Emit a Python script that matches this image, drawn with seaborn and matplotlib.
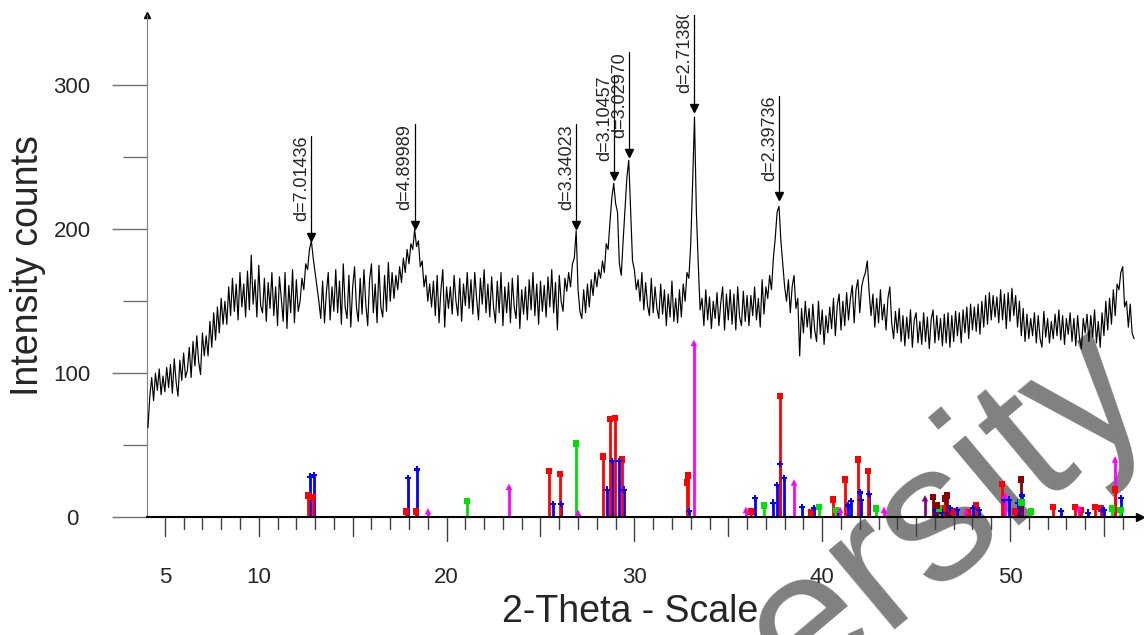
import numpy as np
import pandas as pd
import matplotlib
matplotlib.use("Agg")
import matplotlib.pyplot as plt
import matplotlib.transforms as mtrans
import seaborn as sns

start_2theta = 4.1
step_2theta = 0.1
counts = [
    62,
    84, 97, 81, 100, 88, 103, 85, 98, 87, 104,
    90, 106, 86, 110, 94, 84, 109, 95, 114, 97,
    102, 118, 97, 122, 105, 126, 108, 99, 128, 112,
    126, 112, 136, 118, 142, 123, 146, 128, 152, 134,
    150, 134, 160, 140, 166, 143, 162, 137, 170, 146,
    162, 139, 171, 144, 182, 148, 165, 139, 175, 147,
    142, 166, 136, 163, 145, 170, 140, 160, 133, 167,
    152, 136, 170, 131, 161, 142, 172, 135, 165, 143,
    150, 166, 158, 176, 172, 186, 192, 180, 170, 160,
    150, 138, 164, 135, 156, 170, 137, 160, 143, 172,
    142, 164, 134, 176, 146, 138, 168, 132, 160, 174,
    146, 136, 166, 141, 172, 148, 133, 165, 176, 142,
    162, 135, 175, 146, 139, 168, 143, 177, 150, 170,
    152, 168, 158, 174, 163, 180, 170, 186, 176, 190,
    186, 200, 188, 192, 174, 178, 160, 168, 150, 162,
    146, 164, 140, 168, 135, 158, 172, 132, 160, 145,
    160, 141, 168, 150, 140, 166, 136, 162, 147, 170,
    145, 165, 141, 170, 152, 137, 166, 148, 172, 142,
    162, 139, 167, 146, 135, 164, 142, 170, 133, 160,
    142, 163, 135, 166, 146, 138, 168, 131, 158, 141,
    160, 137, 165, 144, 170, 140, 162, 134, 164, 143,
    161, 139, 167, 146, 172, 142, 163, 130, 168, 150,
    143, 166, 157, 170, 160, 176, 180, 199, 158, 143,
    138, 158, 142, 162, 146, 165, 154, 170, 160, 172,
    166, 178, 170, 190, 186, 205, 222, 232, 218, 212,
    176, 168, 192, 214, 236, 248, 212, 178, 172, 158,
    165, 150, 170, 144, 163, 147, 140, 166, 142, 160,
    145, 138, 162, 141, 158, 133, 155, 139, 164, 136,
    152, 135, 158, 139, 162, 150, 170, 166, 190, 232,
    278, 212, 176, 144, 152, 133, 158, 137, 153, 131,
    150, 138, 156, 133, 149, 160, 130, 155, 137, 158,
    134, 155, 130, 160, 139, 133, 157, 136, 154, 133,
    154, 140, 160, 137, 152, 132, 165, 141, 160, 152,
    168, 158, 180, 194, 212, 216, 192, 176, 160, 150,
    165, 142, 160, 168, 145, 152, 112, 145, 128, 150,
    132, 145, 124, 148, 130, 122, 150, 127, 144, 120,
    140, 128, 146, 131, 152, 126, 147, 155, 130, 150,
    133, 156, 137, 152, 161, 135, 158, 165, 142, 160,
    166, 170, 178, 156, 140, 155, 132, 152, 135, 158,
    137, 148, 130, 152, 160, 135, 124, 143, 128, 145,
    122, 140, 119, 139, 124, 144, 118, 137, 142, 121,
    136, 120, 142, 122, 139, 117, 137, 144, 121, 140,
    123, 138, 119, 141, 121, 142, 118, 140, 122, 143,
    126, 142, 121, 144, 128, 146, 124, 148, 130, 146,
    129, 148, 127, 150, 132, 154, 134, 156, 137, 154,
    139, 153, 135, 158, 137, 155, 131, 156, 136, 159,
    140, 154, 132, 150, 126, 145, 122, 141, 124, 138,
    126, 142, 121, 140, 124, 118, 143, 125, 138, 121,
    136, 124, 141, 126, 144, 123, 140, 120, 138, 127,
    142, 122, 138, 119, 140, 124, 117, 138, 128, 141,
    122, 140, 125, 144, 121, 136, 118, 142, 126, 150,
    130, 152, 134, 158, 140, 162, 158, 170, 174, 146,
    150, 132, 148, 128, 124,
]
two_theta = np.round(start_2theta + step_2theta * np.arange(len(counts)), 2)

# labelled peaks
peak_pos = [12.78, 18.3, 26.9, 28.92, 29.7, 33.2, 37.72]
peak_top = [192, 200, 200, 234, 250, 281, 220]
peak_d = ["d=7.01436", "d=4.89989", "d=3.34023", "d=3.10457",
          "d=3.02970", "d=2.71380", "d=2.39736"]

# reference stick patterns
red_pos = [12.62, 12.89, 17.84, 18.37, 25.45, 26.04, 28.33, 28.70, 28.97, 29.34,
           32.80, 32.85, 36.21, 37.75, 39.40, 40.58, 41.21, 41.91, 42.44, 46.43,
           46.96, 47.76, 48.19, 49.57, 50.27, 52.29, 53.46, 53.78, 54.53, 54.84, 55.59]
red_int = [15, 14, 4, 4, 32, 30, 42, 68, 69, 40,
           24, 29, 4, 84, 3, 12, 26, 40, 32, 6,
           4, 3, 8, 23, 4, 7, 7, 5, 7, 6, 19]
blue_pos = [12.73, 12.94, 17.94, 18.42, 25.67, 26.09, 28.54, 28.81, 29.18, 29.45,
            32.90, 36.42, 37.38, 37.59, 37.75, 37.97, 38.92, 39.56, 40.84, 41.37,
            41.53, 42.01, 42.07, 42.49, 46.01, 46.38, 46.81, 47.18, 48.03, 48.35,
            49.68, 49.95, 50.43, 50.64, 52.72, 54.15, 54.90, 55.01, 55.91]
blue_int = [28, 29, 27, 33, 9, 9, 19, 39, 39, 19,
            4, 13, 10, 22, 37, 27, 7, 6, 4, 8,
            11, 17, 12, 16, 5, 3, 6, 5, 6, 5,
            12, 12, 10, 15, 4, 3, 5, 5, 13]
green_pos = [21.09, 26.89, 36.90, 39.83, 40.74, 42.87, 46.22, 50.60, 51.12, 55.43, 55.88]
green_int = [11, 51, 8, 7, 5, 6, 6, 10, 4, 6, 5]
magenta_pos = [19.01, 23.32, 27.00, 33.17, 35.94, 38.50, 40.95, 43.29, 47.66, 49.73, 53.67, 55.59]
magenta_int = [4, 21, 3, 121, 5, 24, 5, 5, 4, 15, 6, 40]
maroon_pos = [45.90, 46.11, 46.54, 46.64, 50.59]
maroon_int = [14, 8, 13, 15, 26]
purple_pos = [45.47]
purple_int = [13]

phase_colors = {"red": "#ff0000", "blue": "#0000ff", "green": "#00e000",
                "magenta": "#ff00ff", "maroon": "#8b0000", "purple": "#8b008b"}
phase_markers = {"red": "s", "blue": "P", "green": "s",
                 "magenta": "^", "maroon": "s", "purple": "^"}

sticks = pd.concat([
    pd.DataFrame({"pos": red_pos, "int": red_int, "phase": "red"}),
    pd.DataFrame({"pos": blue_pos, "int": blue_int, "phase": "blue"}),
    pd.DataFrame({"pos": green_pos, "int": green_int, "phase": "green"}),
    pd.DataFrame({"pos": magenta_pos, "int": magenta_int, "phase": "magenta"}),
    pd.DataFrame({"pos": maroon_pos, "int": maroon_int, "phase": "maroon"}),
    pd.DataFrame({"pos": purple_pos, "int": purple_int, "phase": "purple"}),
], ignore_index=True)

sns.set_style("white")
plt.rcParams["font.family"] = ["Liberation Sans", "DejaVu Sans"]

fig = plt.figure(figsize=(11.44, 6.35), dpi=100)
ax = fig.add_axes([0.1285, 0.1858, 0.868, 0.7906])
ax.patch.set_alpha(0)

# watermark behind the data
fig.text(0.827, 0.191, "ersity", rotation=40, fontsize=140, color="#808080",
         ha="center", va="center", zorder=-1)

for ph, grp in sticks.groupby("phase"):
    ax.vlines(grp["pos"], 0, grp["int"], color=phase_colors[ph], lw=2, zorder=2)
sns.scatterplot(data=sticks, x="pos", y="int", hue="phase", style="phase",
                palette=phase_colors, markers=phase_markers, s=22, linewidth=0,
                legend=False, ax=ax, zorder=3)

sns.lineplot(x=two_theta, y=counts, color="black", lw=0.85, estimator=None, ax=ax, zorder=4)

for x, top, lab in zip(peak_pos, peak_top, peak_d):
    ax.plot([x, x], [top + 3, top + 73], color="black", lw=0.9, zorder=5)
    ax.plot(x, top + 3, marker="v", color="black", markersize=6, zorder=5)
    ax.text(x - 0.05, top + 73, lab, rotation=90, ha="right", va="top",
            fontsize=13, clip_on=True, zorder=5)

ax.set_xlim(4.05, 56.92)
ax.set_ylim(0, 349)

for side in ["top", "right"]:
    ax.spines[side].set_visible(False)
ax.spines["left"].set_color("#808080")
ax.spines["bottom"].set_color("black")
ax.spines["bottom"].set_linewidth(1.5)

# y ticks
ax.set_yticks([0, 100, 200, 300])
ax.set_yticks([50, 150, 250], minor=True)
ax.tick_params(axis="y", which="major", direction="out", length=25, width=1,
               color="#707070", pad=29, labelsize=16, left=True)
ax.tick_params(axis="y", which="minor", direction="out", length=17, width=1,
               color="#707070", left=True)
plt.setp(ax.get_yticklabels(), ha="center")

# x ticks: labels only, tick marks drawn below the axis
ax.set_xticks([5, 10, 20, 30, 40, 50])
ax.tick_params(axis="x", which="major", length=0, pad=36, labelsize=16)
trans = mtrans.blended_transform_factory(ax.transData, ax.transAxes)
ax_h = 0.7906 * 635
for t in range(5, 57):
    if t % 10 == 0 and t != 10:
        L = 24
    elif t % 5 == 0:
        L = 19
    else:
        L = 12
    ax.plot([t, t], [0, -L / ax_h], transform=trans, color="#404040", lw=1, clip_on=False)

# axis arrows
ax.plot(4.05, 1.0, marker="^", color="black", markersize=5,
        transform=trans, clip_on=False)
ax.plot(56.92, 0.0, marker=">", color="black", markersize=6,
        transform=trans, clip_on=False)

ax.set_xlabel("2-Theta - Scale", fontsize=27)
ax.set_ylabel("Intensity counts", fontsize=27)
ax.xaxis.label.set_va("center")
ax.yaxis.label.set_va("center")
ax.xaxis.set_label_coords(0.487, -0.19)
ax.yaxis.set_label_coords(-0.12, 0.5)

fig.savefig("out.png", dpi=100)
